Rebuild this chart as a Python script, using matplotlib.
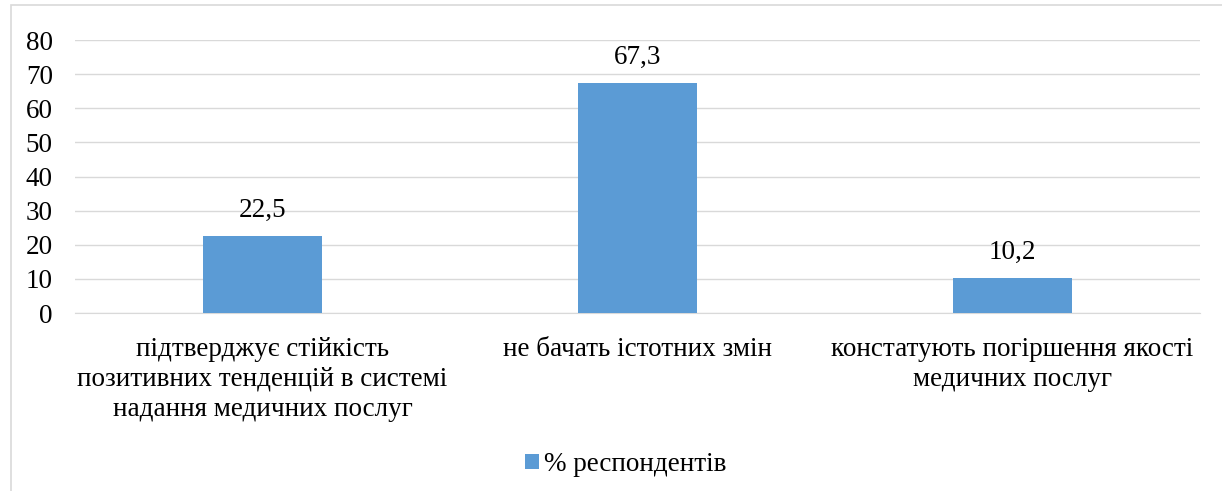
import matplotlib.pyplot as plt
from matplotlib.patches import Rectangle

# дані
categories = ['підтверджує стійкість\nпозитивних тенденцій в системі\nнадання медичних послуг',
              'не бачать істотних змін',
              'констатують погіршення якості\nмедичних послуг']
values = [22.5, 67.3, 10.2]
labels = ['22,5', '67,3', '10,2']
yticks = [0, 10, 20, 30, 40, 50, 60, 70, 80]

plt.rcParams['font.family'] = ['Liberation Serif', 'DejaVu Serif']
fs = 19.5

fig = plt.figure(figsize=(12.22, 4.91), dpi=100)
ax = fig.add_axes([0.0614, 0.3625, 0.9206, 0.556])

x = range(len(values))
ax.bar(x, values, width=0.315, color='#5B9BD5', zorder=3, label='% респондентів')
for xi, v, s in zip(x, values, labels):
    ax.text(xi, v + 4.0, s, ha='center', va='bottom', fontsize=fs)

ax.set_xlim(-0.5, 2.5)
ax.set_ylim(0, 80)
ax.set_yticks(yticks)
ax.set_yticklabels([str(t) for t in yticks], fontsize=fs)
ax.set_xticks(list(x))
ax.set_xticklabels(categories, fontsize=fs, linespacing=1.28)
ax.tick_params(axis='y', length=0, pad=16)
ax.tick_params(axis='x', length=0, pad=17)
ax.grid(axis='y', color='#D9D9D9', linewidth=1, zorder=0)
for sp in ['top', 'right', 'left']:
    ax.spines[sp].set_visible(False)
ax.spines['bottom'].set_color('#D9D9D9')

fig.legend(loc='center', bbox_to_anchor=(0.512, 0.054), frameon=False, fontsize=fs,
           handlelength=0.5, handleheight=0.5, handletextpad=0.2)

# рамка навколо діаграми
fig.patches.append(Rectangle((0.009, -0.01), 1.0, 1.0, transform=fig.transFigure,
                             fill=False, edgecolor='#D9D9D9', linewidth=1.2))

fig.savefig('out.png', dpi=100)
